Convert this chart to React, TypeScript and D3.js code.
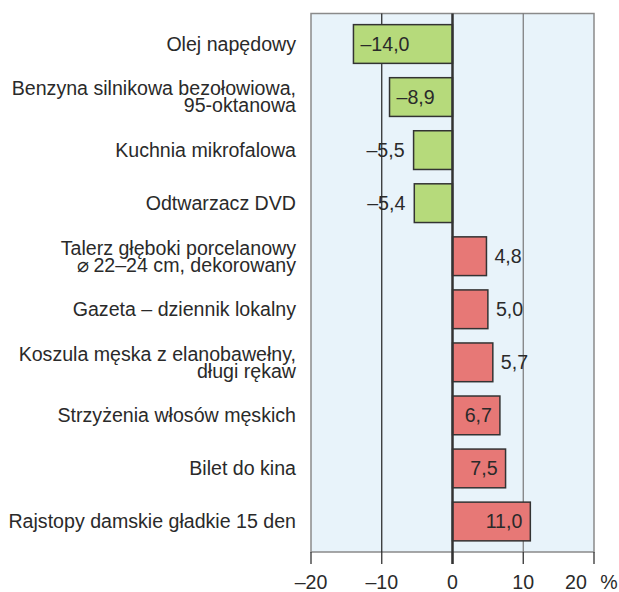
import React from "react";
import * as d3 from "d3";

const categories = [
  ["Olej napędowy"],
  ["Benzyna silnikowa bezołowiowa,", "95-oktanowa"],
  ["Kuchnia mikrofalowa"],
  ["Odtwarzacz DVD"],
  ["Talerz głęboki porcelanowy", "\u2300\u200922–24 cm, dekorowany"],
  ["Gazeta – dziennik lokalny"],
  ["Koszula męska z elanobawełny,", "długi rękaw"],
  ["Strzyżenia włosów męskich"],
  ["Bilet do kina"],
  ["Rajstopy damskie gładkie 15 den"],
];
const values = [-14.0, -8.9, -5.5, -5.4, 4.8, 5.0, 5.7, 6.7, 7.5, 11.0];
const ticks = [-20, -10, 0, 10, 20];

const fmt = (v: number) => (v < 0 ? "–" : "") + Math.abs(v).toFixed(1).replace(".", ",");

const App = () => {
  const width = 619;
  const height = 592;
  const left = 311;
  const right = 594;
  const top = 13.5;
  const bottom = 552;
  const font = "Liberation Sans, Arial, sans-serif";
  const fs = 19.6;
  const textColor = "#2a2a2a";

  const x = d3.scaleLinear().domain([-20, 20]).range([left, right]);
  const keys = categories.map((_, i) => String(i));
  const y = d3
    .scaleBand()
    .domain(keys)
    .range([top, bottom])
    .paddingInner(0.27)
    .paddingOuter(0.21);

  const gridColor = (t: number) => (t === -10 ? "#222" : "#777");

  return (
    <svg
      width={width}
      height={height}
      style={{ position: "absolute", left: 0, top: 0, background: "#fff" }}
    >
      <rect
        x={left}
        y={top}
        width={right - left}
        height={bottom - top}
        fill="#e8f3fa"
        stroke="#8a8a8a"
        strokeWidth={1.5}
      />
      {ticks
        .filter((t) => t === -10 || t === 10)
        .map((t) => (
          <line
            key={t}
            x1={x(t)}
            x2={x(t)}
            y1={top}
            y2={bottom}
            stroke={gridColor(t)}
            strokeWidth={1.2}
          />
        ))}
      {ticks.map((t) => (
        <g key={"t" + t}>
          <line x1={x(t)} x2={x(t)} y1={bottom} y2={bottom + 12} stroke="#333" strokeWidth={1.3} />
          <text
            x={t === 20 ? x(t) - 18 : x(t)}
            y={589}
            textAnchor="middle"
            fontFamily={font}
            fontSize={fs}
            fill={textColor}
          >
            {fmt(t).replace(",0", "")}
          </text>
        </g>
      ))}
      <text x={609} y={589} textAnchor="middle" fontFamily={font} fontSize={fs} fill={textColor}>
        %
      </text>
      {values.map((v, i) => {
        const y0 = y(String(i)) as number;
        const bw = y.bandwidth();
        const x0 = x(Math.min(0, v));
        const x1 = x(Math.max(0, v));
        const inside = Math.abs(v) >= 6;
        let lx: number;
        let anchor: string;
        if (v < 0) {
          lx = inside ? x0 + 7 : x0 - 9;
          anchor = inside ? "start" : "end";
        } else {
          lx = inside ? x1 - 8 : x1 + 8;
          anchor = inside ? "end" : "start";
        }
        const lines = categories[i];
        const cy = y0 + bw / 2;
        return (
          <g key={i}>
            <rect
              x={x0}
              y={y0}
              width={x1 - x0}
              height={bw}
              fill={v < 0 ? "#b6da7b" : "#e77876"}
              stroke="#333"
              strokeWidth={1.5}
            />
            <text
              x={lx}
              y={cy}
              dy="0.35em"
              textAnchor={anchor}
              fontFamily={font}
              fontSize={fs}
              fill={textColor}
            >
              {fmt(v)}
            </text>
            {lines.map((ln, j) => (
              <text
                key={j}
                x={296}
                y={cy + (j - (lines.length - 1) / 2) * 17}
                dy="0.35em"
                textAnchor="end"
                fontFamily={font}
                fontSize={fs}
                fill={textColor}
              >
                {ln}
              </text>
            ))}
          </g>
        );
      })}
      <line x1={x(0)} x2={x(0)} y1={top} y2={bottom + 12} stroke="#333" strokeWidth={2.5} />
    </svg>
  );
};

export default App;
